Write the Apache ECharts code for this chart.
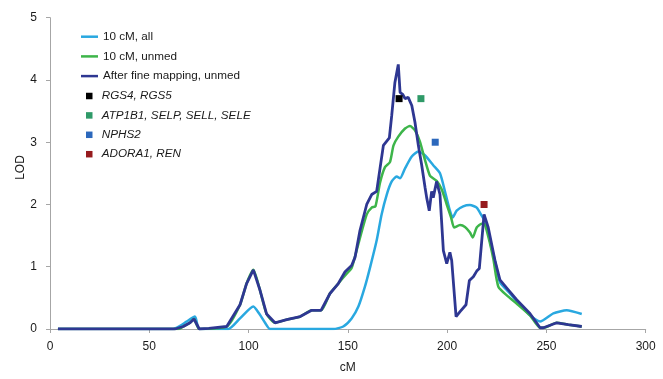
<!DOCTYPE html>
<html>
<head>
<meta charset="utf-8">
<script src="https://cdn.jsdelivr.net/npm/echarts@6/dist/echarts.min.js"></script>
<style>html,body{margin:0;padding:0;background:#fff}#c{width:663px;height:379px}</style>
</head>
<body>
<div id="c"></div>
<script>
// ---- data ----
var seriesNames = ['10 cM, all', '10 cM, unmed', 'After fine mapping, unmed'];
var geneNames = ['RGS4, RGS5', 'ATP1B1, SELP, SELL, SELE', 'NPHS2', 'ADORA1, REN'];

var allX = [4, 62, 65.5, 68.8, 73, 75.2, 89.8, 95.7, 102.4, 105.5, 108.3, 110.8, 142.7, 147.7, 151.9, 155.3, 158.6, 161.2, 164.5, 167, 169.6, 172.1, 174.6, 176.3, 178.8, 182.2, 185.5, 188.8, 193, 196.4, 198.9, 201.4, 202.8, 204.8, 208.1, 211.5, 214.9, 217.4, 219.5, 222, 224.1, 226.6, 230.8, 235, 241.7, 246.8, 253.5, 260.2, 267.8];
var allY = [0, 0, 0.05, 0.12, 0.2, 0, 0, 0.17, 0.36, 0.24, 0.1, 0, 0, 0.04, 0.17, 0.36, 0.68, 0.99, 1.42, 1.84, 2.16, 2.37, 2.45, 2.42, 2.58, 2.77, 2.85, 2.79, 2.63, 2.50, 2.21, 1.90, 1.79, 1.90, 1.97, 1.99, 1.95, 1.82, 1.70, 1.35, 1.10, 0.75, 0.60, 0.45, 0.22, 0.12, 0.25, 0.30, 0.24];

var unmedX = [4, 65, 67.1, 70.5, 72.5, 75.2, 89, 95.7, 99, 102.4, 105.7, 109.1, 113.3, 119.2, 126, 131.8, 136.5, 141, 145.2, 149.4, 151.9, 154.4, 159.5, 162, 163.9, 166.2, 168.7, 171.2, 173, 175.4, 178.8, 181.3, 183.8, 186.3, 188.8, 191.4, 194.7, 197.3, 199.8, 202, 203.5, 206.5, 209, 211.5, 212.9, 214.9, 217.4, 219, 221.6, 223.3, 225.8, 230.8, 235, 241.7, 246.8, 248.5, 255.2, 261, 267.8];
var unmedY = [0, 0, 0.04, 0.1, 0.16, 0, 0.04, 0.39, 0.73, 0.95, 0.63, 0.24, 0.1, 0.15, 0.2, 0.3, 0.3, 0.57, 0.73, 0.89, 0.98, 1.26, 1.84, 1.95, 1.97, 2.35, 2.6, 2.68, 2.95, 3.09, 3.22, 3.26, 3.19, 3.01, 2.72, 2.46, 2.38, 2.24, 2.0, 1.79, 1.63, 1.67, 1.64, 1.55, 1.47, 1.63, 1.69, 1.68, 1.37, 1.12, 0.68, 0.52, 0.41, 0.22, 0.02, 0.02, 0.10, 0.07, 0.04];

var fineX = [4, 63, 67.1, 70.5, 72.5, 75.2, 80, 89, 95.7, 99, 102.4, 105.7, 109.1, 113.3, 119.2, 126, 131.8, 136.5, 141, 145.2, 148.6, 151.9, 153.6, 156.1, 159.5, 162, 164.5, 166.2, 167.9, 170.9, 172.1, 173.7, 175.4, 175.9, 176.3, 177.6, 178.8, 180.4, 182.2, 183.8, 185.5, 187.2, 188.9, 189.7, 191, 192.2, 193, 194.7, 196.4, 198.1, 199.8, 201.4, 202.3, 204.5, 206.5, 209.5, 211.2, 213.2, 214.9, 216.2, 218.6, 220.7, 224.1, 226.6, 230.8, 235, 241.7, 246.8, 248.5, 255.2, 261, 267.8];
var fineY = [0, 0, 0.04, 0.1, 0.16, 0, 0.01, 0.04, 0.39, 0.73, 0.95, 0.63, 0.24, 0.1, 0.15, 0.2, 0.3, 0.3, 0.57, 0.73, 0.92, 1.02, 1.15, 1.58, 2.0, 2.16, 2.21, 2.58, 2.95, 3.07, 3.43, 3.96, 4.25, 4.22, 3.80, 3.77, 3.70, 3.72, 3.59, 3.32, 2.95, 2.63, 2.27, 2.11, 1.90, 2.21, 2.11, 2.37, 2.16, 1.26, 1.05, 1.23, 1.10, 0.20, 0.28, 0.39, 0.78, 0.84, 0.93, 0.97, 1.84, 1.63, 1.10, 0.79, 0.63, 0.47, 0.25, 0.02, 0.02, 0.10, 0.07, 0.04];

var geneX = [175.8, 186.8, 194, 218.6];
var geneY = [3.7, 3.7, 3.0, 2.0];

var xTicks = [0, 50, 100, 150, 200, 250, 300];
var yTicks = [0, 1, 2, 3, 4, 5];

// ---- styling ----
var lineColors = ['#29A8E0', '#3DB54A', '#2E3792'];
var geneColors = ['#000000', '#2F9A68', '#2C68BC', '#961B1E'];
var font = '"Liberation Sans", Arial, sans-serif';

function zip(xs, ys) { return xs.map(function (x, i) { return [x, ys[i]]; }); }

var chart = echarts.init(document.getElementById('c'), null, {renderer: 'canvas'});

var lineData = [zip(allX, allY), zip(unmedX, unmedY), zip(fineX, fineY)];
var series = [];
seriesNames.forEach(function (n, i) {
  series.push({
    name: n, type: 'line', data: lineData[i], symbol: 'none',
    smooth: i === 2 ? false : 0.2,
    lineStyle: {color: lineColors[i], width: i === 2 ? 2.8 : 2.5},
    itemStyle: {color: lineColors[i]},
    z: 2 + i, animation: false
  });
});
geneNames.forEach(function (n, i) {
  series.push({
    name: n, type: 'scatter', data: [[geneX[i], geneY[i]]],
    symbol: 'rect', symbolSize: 7,
    itemStyle: {color: geneColors[i], opacity: 1}, z: 10, animation: false
  });
});

var txt = {fontFamily: font, fontSize: 11.7, color: '#1a1a1a', lineHeight: 14};

chart.setOption({
  animation: false,
  grid: {left: 50, right: 17.3, top: 17.7, bottom: 46.3, containLabel: false},
  xAxis: {
    type: 'value', min: xTicks[0], max: xTicks[xTicks.length - 1], interval: 50,
    name: 'cM', nameLocation: 'middle', nameGap: 33,
    nameTextStyle: {fontFamily: font, fontSize: 12, color: '#1a1a1a'},
    axisLine: {show: true, lineStyle: {color: '#A6A6A6', width: 1}},
    axisTick: {show: true, length: 4, lineStyle: {color: '#A6A6A6'}},
    axisLabel: {fontFamily: font, fontSize: 12, color: '#1a1a1a', margin: 12},
    splitLine: {show: false}
  },
  yAxis: {
    type: 'value', min: yTicks[0], max: yTicks[yTicks.length - 1], interval: 1,
    axisLine: {show: true, lineStyle: {color: '#A6A6A6', width: 1}},
    axisTick: {show: true, length: 4, lineStyle: {color: '#A6A6A6'}},
    axisLabel: {fontFamily: font, fontSize: 12, color: '#1a1a1a', margin: 13},
    splitLine: {show: false}
  },
  legend: [
    {
      data: seriesNames, orient: 'vertical', left: 81, top: 29.7, padding: 0,
      itemWidth: 17, itemHeight: 2.5, itemGap: 5.7, icon: 'rect',
      textStyle: txt, selectedMode: false
    },
    {
      data: geneNames, orient: 'vertical', left: 86, top: 89, padding: 0,
      itemWidth: 6.5, itemHeight: 6.5, itemGap: 5.4, icon: 'rect',
      itemStyle: {opacity: 1},
      textStyle: Object.assign({}, txt, {fontStyle: 'italic', padding: [0, 0, 0, 4.2]}), selectedMode: false
    }
  ],
  graphic: [{
    type: 'text', x: 21, y: 167.5, rotation: Math.PI / 2,
    style: {text: 'LOD', fontFamily: font, fontSize: 12, fill: '#1a1a1a', align: 'center', verticalAlign: 'middle'}
  }],
  series: series
});
</script>
</body>
</html>
